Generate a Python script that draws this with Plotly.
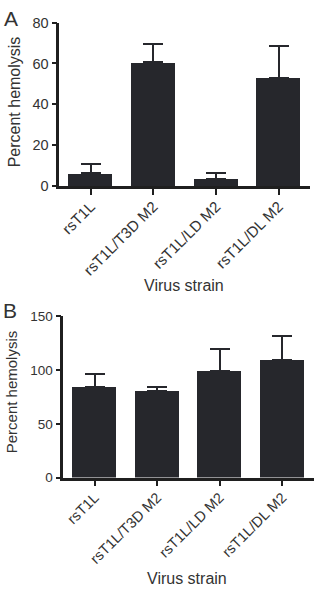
import plotly.graph_objects as go

categories = ["rsT1L", "rsT1L/T3D M2", "rsT1L/LD M2", "rsT1L/DL M2"]
values_a = [6.2, 60.5, 3.5, 53.0]
errors_a = [4.8, 8.9, 2.7, 15.6]
values_b = [84.4, 80.1, 99.1, 108.8]
errors_b = [11.4, 3.6, 20.5, 22.5]
yticks_a = [0, 20, 40, 60, 80]
yticks_b = [0, 50, 100, 150]

BAR = "#26272c"
AX = "#1f1f1f"
TXT = "#333333"
FONT = "Liberation Sans, Arial, sans-serif"
W, H = 314, 590

def px(v, total):
    return v / total

fig = go.Figure()

fig.add_trace(go.Bar(
    x=list(range(len(categories))), y=values_a, width=0.7,
    marker=dict(color=BAR, line=dict(width=0)),
    error_y=dict(type="data", array=errors_a, arrayminus=[0]*4, symmetric=False,
                 color=BAR, thickness=2, width=10),
    xaxis="x", yaxis="y", showlegend=False))

fig.add_trace(go.Bar(
    x=list(range(len(categories))), y=values_b, width=0.7,
    marker=dict(color=BAR, line=dict(width=0)),
    error_y=dict(type="data", array=errors_b, arrayminus=[0]*4, symmetric=False,
                 color=BAR, thickness=2, width=10),
    xaxis="x2", yaxis="y2", showlegend=False))

common_x = dict(showline=True, linecolor=AX, linewidth=2.5, ticks="outside",
                ticklen=6, tickwidth=2, tickcolor=AX, showgrid=False, zeroline=False,
                tickangle=-45, tickmode="array", tickvals=list(range(4)),
                ticktext=categories, range=[-0.5, 3.5], ticklabelstandoff=-3)
common_y = dict(showline=True, linecolor=AX, linewidth=2.5, ticks="outside",
                ticklen=5, tickwidth=2, tickcolor=AX, showgrid=False, zeroline=False,
                tickmode="array")

fig.update_layout(
    width=W, height=H, margin=dict(l=0, r=0, t=0, b=0),
    paper_bgcolor="white", plot_bgcolor="white",
    font=dict(family=FONT, color=TXT),
    bargap=0,
    xaxis=dict(**common_x, domain=[px(58.5, W), px(310, W)], anchor="y",
               tickfont=dict(size=15.2, color=TXT, family=FONT)),
    yaxis=dict(**common_y, domain=[1 - px(183, H), 1 - px(15, H)], anchor="x",
               range=[0, 80], tickvals=yticks_a,
               tickfont=dict(size=14.5, color=TXT, family=FONT)),
    xaxis2=dict(**common_x, domain=[px(62.5, W), px(313.5, W)], anchor="y2",
                tickfont=dict(size=14.6, color=TXT, family=FONT)),
    yaxis2=dict(**common_y, domain=[1 - px(482.7, H), 1 - px(316.7, H)], anchor="x2",
                range=[0, 150], tickvals=yticks_b,
                tickfont=dict(size=13.5, color=TXT, family=FONT)),
)

ann = []
ann.append(dict(text="A", x=px(10, W), y=1 - px(10.5, H), xref="paper", yref="paper",
                showarrow=False, xanchor="center", yanchor="middle",
                font=dict(size=21, color=TXT, family=FONT)))
ann.append(dict(text="B", x=px(9, W), y=1 - px(310.5, H), xref="paper", yref="paper",
                showarrow=False, xanchor="center", yanchor="middle",
                font=dict(size=21, color=TXT, family=FONT)))
ann.append(dict(text="Percent hemolysis", x=px(13, W), y=1 - px(96, H), xref="paper",
                yref="paper", showarrow=False, textangle=-90, xanchor="center",
                yanchor="middle", font=dict(size=16, color=TXT, family=FONT)))
ann.append(dict(text="Percent hemolysis", x=px(10, W), y=1 - px(394, H), xref="paper",
                yref="paper", showarrow=False, textangle=-90, xanchor="center",
                yanchor="middle", font=dict(size=15, color=TXT, family=FONT)))
ann.append(dict(text="Virus strain", x=px(184, W), y=1 - px(285, H), xref="paper",
                yref="paper", showarrow=False, xanchor="center", yanchor="middle",
                font=dict(size=16, color=TXT, family=FONT)))
ann.append(dict(text="Virus strain", x=px(187, W), y=1 - px(586, H), xref="paper",
                yref="paper", showarrow=False, xanchor="center", yanchor="middle",
                font=dict(size=16, color=TXT, family=FONT)))
fig.update_layout(annotations=ann)

fig.write_html("out.html")
